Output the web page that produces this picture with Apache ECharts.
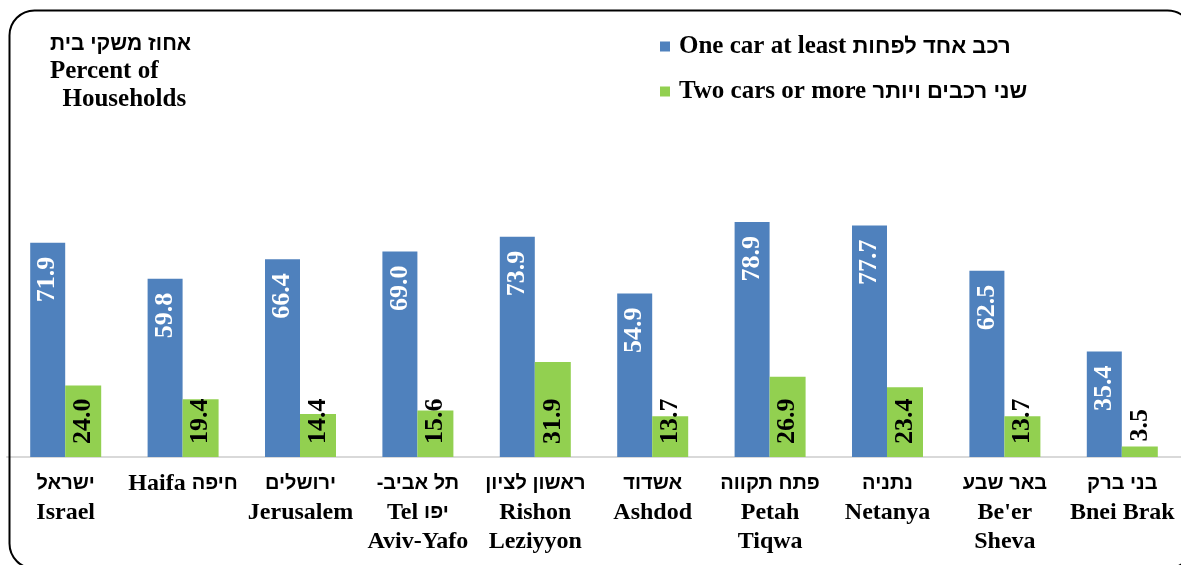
<!DOCTYPE html>
<html>
<head>
<meta charset="utf-8">
<script src="https://cdn.jsdelivr.net/npm/echarts@6/dist/echarts.min.js"></script>
<style>
  html, body { margin: 0; padding: 0; background: #fff; }
  #myChart { width: 1181px; height: 565px; }
</style>
</head>
<body>
<div id="myChart"></div>
<script>
// categories, visual order of mixed Hebrew/English kept for an LTR canvas
var cities = [
  'ישראל\nIsrael',
  'Haifa חיפה',
  'ירושלים\nJerusalem',
  '-תל אביב\nTel יפו\nAviv-Yafo',
  'ראשון לציון\nRishon\nLeziyyon',
  'אשדוד\nAshdod',
  'פתח תקווה\nPetah\nTiqwa',
  'נתניה\nNetanya',
  'באר שבע\nBe\'er\nSheva',
  'בני ברק\nBnei Brak'
]
var oneCar = [71.9, 59.8, 66.4, 69.0, 73.9, 54.9, 78.9, 77.7, 62.5, 35.4]
var twoCars = [24.0, 19.4, 14.4, 15.6, 31.9, 13.7, 26.9, 23.4, 13.7, 3.5]
var seriesNames = ['One car at least רכב אחד לפחות', 'Two cars or more שני רכבים ויותר']
var titleText = 'אחוז משקי בית\nPercent of\n  Households'

var serif = "'Liberation Serif', 'Times New Roman', serif"
var heFont = "'Liberation Sans', 'DejaVu Sans', sans-serif"

// wrap the hebrew runs so they get a bold sans face
function heWrap (s) {
  return s.split('\n').map(function (line) {
    return line.replace(/-?[\u0590-\u05FF]+(?: [\u0590-\u05FF]+)*/g, function (m) {
      return '{he|' + m + '}'
    })
  }).join('\n')
}
function heRich (size, lh) {
  return { he: { fontFamily: heFont, fontWeight: 'bold', fontSize: size, lineHeight: lh, color: '#000' } }
}

var fmt = function (p) { return p.value.toFixed(1) }

// short green bars get their label above the bar
var greenData = twoCars.map(function (v) {
  if (v < 6) {
    return { value: v, label: { position: 'top', distance: 5 } }
  }
  return v
})

var myChart = echarts.init(document.getElementById('myChart'))
myChart.setOption({
  animation: false,
  title: {
    text: heWrap(titleText),
    left: 45,
    top: 25,
    textStyle: {
      fontFamily: serif,
      fontWeight: 'bold',
      fontSize: 25,
      lineHeight: 28,
      color: '#000',
      rich: heRich(21, 28)
    }
  },
  legend: {
    data: seriesNames,
    orient: 'vertical',
    left: 655,
    top: 29,
    icon: 'rect',
    itemWidth: 10,
    itemHeight: 10,
    itemGap: 20,
    formatter: function (name) { return heWrap(name) },
    textStyle: {
      fontFamily: serif,
      fontWeight: 'bold',
      fontSize: 25,
      lineHeight: 25,
      color: '#000',
      padding: [0, 0, 0, 4],
      rich: heRich(22, 25)
    }
  },
  graphic: [
    {
      type: 'rect',
      left: 7,
      top: 8,
      shape: { width: 1183, height: 558, r: 25 },
      style: { fill: 'none', stroke: '#000', lineWidth: 2 },
      z: 100
    }
  ],
  grid: {
    left: 7,
    width: 1177,
    top: 159,
    bottom: 108
  },
  xAxis: {
    type: 'category',
    data: cities,
    axisLine: { lineStyle: { color: '#D9D9D9', width: 2 } },
    axisTick: { show: false },
    axisLabel: {
      interval: 0,
      margin: 12,
      formatter: function (v) { return heWrap(v) },
      fontFamily: serif,
      fontWeight: 'bold',
      fontSize: 24,
      lineHeight: 29,
      color: '#000',
      rich: heRich(20, 29)
    }
  },
  yAxis: {
    type: 'value',
    min: 0,
    max: 100,
    show: false,
    splitLine: { show: false }
  },
  series: [
    {
      name: seriesNames[0],
      type: 'bar',
      data: oneCar,
      barWidth: 35,
      barGap: '0%',
      itemStyle: { color: '#4F81BD' },
      label: {
        show: true,
        position: 'insideTop',
        distance: 14,
        rotate: 90,
        align: 'right',
        verticalAlign: 'middle',
        formatter: fmt,
        fontFamily: serif,
        fontWeight: 'bold',
        fontSize: 26,
        color: '#fff'
      }
    },
    {
      name: seriesNames[1],
      type: 'bar',
      data: greenData,
      barWidth: 36,
      barGap: '0%',
      itemStyle: { color: '#92D050' },
      label: {
        show: true,
        position: 'insideBottom',
        distance: 13,
        rotate: 90,
        align: 'left',
        verticalAlign: 'middle',
        formatter: fmt,
        fontFamily: serif,
        fontWeight: 'bold',
        fontSize: 26,
        color: '#000'
      }
    }
  ]
})
window.onresize = myChart.resize
</script>
</body>
</html>
